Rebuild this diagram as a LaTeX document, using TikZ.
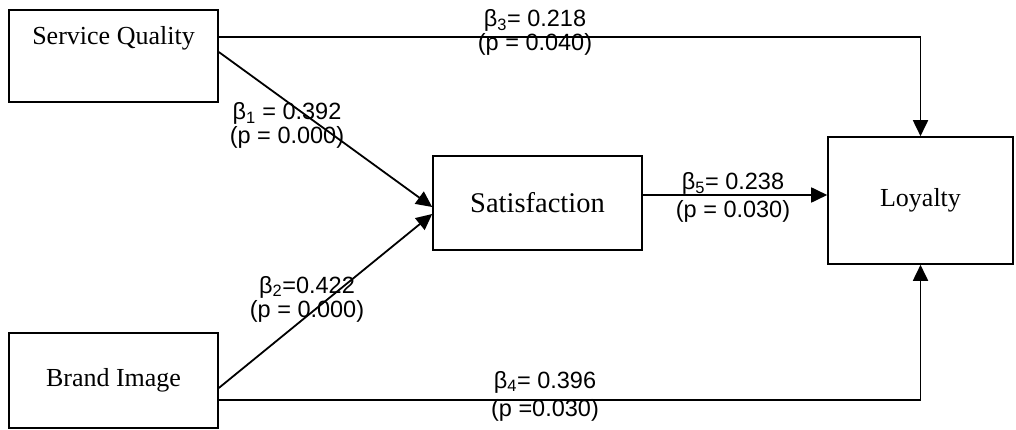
\documentclass[tikz,border=0pt]{standalone}
\usepackage{fontspec}
\setmainfont{Liberation Serif}
\newfontfamily\labelfont{Liberation Sans}
\usetikzlibrary{positioning,arrows.meta}

\begin{document}
\begin{tikzpicture}[x=1pt,y=-1pt,
    box/.style={draw,line width=1.6pt,inner sep=0pt,font=\fontsize{26}{30}\selectfont},
    link/.style={line width=1.8pt,-{Triangle[length=16pt,width=15pt]}},
    coef/.style={align=center,font=\labelfont\fontsize{23.5}{24}\selectfont}]
    \useasboundingbox (0,0) rectangle (1016,430);
    % constructs
    \node[box,minimum width=209pt,text height=35pt,text depth=57pt] (sq) at (113.5,56) {Service Quality};
    \node[box,minimum width=209pt,minimum height=95pt] (bi) at (113.5,380.5) {Brand Image};
    \node[box,minimum width=209pt,minimum height=94pt,font=\fontsize{28.5}{30}\selectfont] (sat) at (537.5,203) {Satisfaction};
    \node[box,minimum width=185pt,minimum height=127pt] (loy) at (920.5,200.5) {Loyalty};
    % paths
    \draw[link] ([yshift=19pt]sq.east) -| (loy.north);
    \draw[link] ([yshift=4pt]sq.east) -- ([yshift=-4pt]sat.west);
    \draw[link] ([yshift=-7.5pt]bi.east) -- ([yshift=-11pt]sat.west);
    \draw[link] ([yshift=8pt]sat.east) -- ([yshift=8pt]sat.east -| loy.west);
    \draw[link] ([yshift=-19.5pt]bi.east) -| (loy.south);
    % coefficients
    \node[coef] (b3) at (535,32.5) {β\textsubscript{3}= 0.218\\(p = 0.040)};
    \node[coef] (b1) at (287,125.5) {β\textsubscript{1} = 0.392\\(p = 0.000)};
    \node[coef] (b2) at (307,299) {β\textsubscript{2}=0.422\\(p = 0.000)};
    \node[coef] (b5) at (733,197.5) {β\textsubscript{5}= 0.238\\[4pt](p = 0.030)};
    \node[coef] (b4) at (545,396) {β\textsubscript{4}= 0.396\\[4pt](p =0.030)};
\end{tikzpicture}
\end{document}
